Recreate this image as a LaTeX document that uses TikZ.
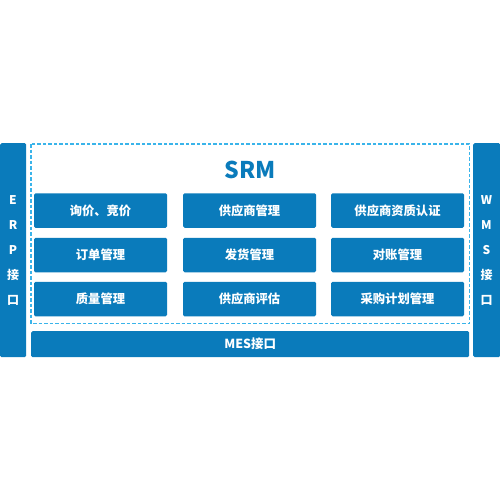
\documentclass[tikz,border=0pt]{standalone}
\usepackage{fontspec}
\newfontfamily\cjk{Noto Sans CJK SC}
\definecolor{srmblue}{HTML}{0A7BBB}
\definecolor{dashblue}{HTML}{3AB4EA}
\begin{document}
\begin{tikzpicture}[x=1pt,y=-1pt,
  blk/.style={fill=srmblue,draw=none,rounded corners=1.5pt},
  mod/.style={blk,minimum width=133pt,minimum height=34.5pt,inner sep=0pt,text=white,font=\cjk\bfseries\fontsize{12.3}{14}\selectfont},
  vlab/.style={text=white,font=\cjk\bfseries\fontsize{12}{14}\selectfont,inner sep=0pt}]
\useasboundingbox (0,0) rectangle (500,500);
\fill[white] (0,0) rectangle (500,500);
% side bars
\node[blk,minimum width=26pt,minimum height=214pt,inner sep=0pt,anchor=north west] (erp) at (0,143) {};
\node[blk,minimum width=27pt,minimum height=214pt,inner sep=0pt,anchor=north west] (wms) at (473,143) {};
\node[blk,minimum width=438pt,minimum height=26pt,inner sep=0pt,anchor=north west,text=white,font=\cjk\bfseries\fontsize{12.5}{14}\selectfont] (mes) at (31,331) {MES接口};
% dashed frame
\draw[dashblue,line width=1.2pt,dash pattern=on 3.5pt off 2pt] (31,144) rectangle (469.5,323.5);
\node[text=srmblue,font=\cjk\bfseries\fontsize{23}{27}\selectfont] (srm) at (250,170) {SRM};
% vertical labels
\node[vlab] (e) at (13,200) {E};
\node[vlab] (r) at (13,225) {R};
\node[vlab] (p) at (13,250) {P};
\node[vlab] (j1) at (13,275) {接};
\node[vlab] (k1) at (13,300) {口};
\node[vlab] (w) at (486.5,200) {W};
\node[vlab] (m) at (486.5,225) {M};
\node[vlab] (s) at (486.5,250) {S};
\node[vlab] (j2) at (486.5,275) {接};
\node[vlab] (k2) at (486.5,300) {口};
% modules
\node[mod] (a1) at (100.5,210.5) {询价、竞价};
\node[mod] (a2) at (249.5,210.5) {供应商管理};
\node[mod] (a3) at (397.5,210.5) {供应商资质认证};
\node[mod] (b1) at (100.5,255) {订单管理};
\node[mod] (b2) at (249.5,255) {发货管理};
\node[mod] (b3) at (397.5,255) {对账管理};
\node[mod] (c1) at (100.5,299) {质量管理};
\node[mod] (c2) at (249.5,299) {供应商评估};
\node[mod] (c3) at (397.5,299) {采购计划管理};
\end{tikzpicture}
\end{document}
